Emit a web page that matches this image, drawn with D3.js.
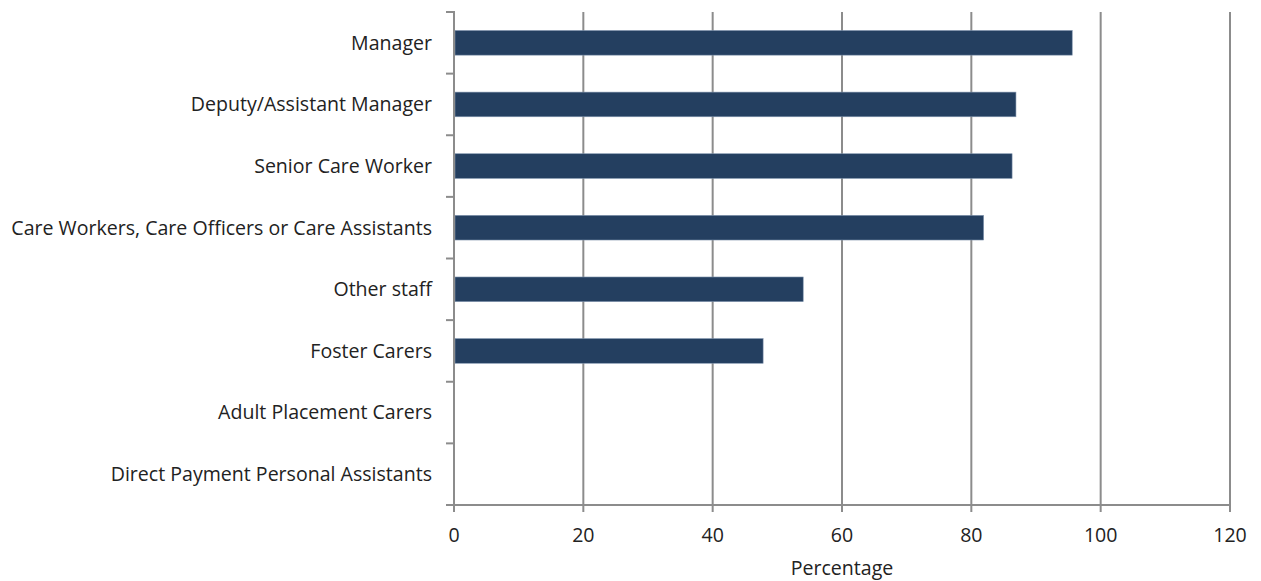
<!DOCTYPE html>
<html>
<head>
<meta charset="utf-8">
<script src="https://cdn.jsdelivr.net/npm/d3@7"></script>
<style>
  html, body { margin: 0; padding: 0; background: #fff; }
  svg { display: block; font-family: "Open Sans", "Noto Sans", sans-serif; }
</style>
</head>
<body>
<svg id="chart" width="1261" height="581"></svg>
<script>
const categories = [
  "Manager",
  "Deputy/Assistant Manager",
  "Senior Care Worker",
  "Care Workers, Care Officers or Care Assistants",
  "Other staff",
  "Foster Carers",
  "Adult Placement Carers",
  "Direct Payment Personal Assistants"
];
const values = [95.6, 86.9, 86.3, 81.9, 54.0, 47.8, null, null];
const xTicks = [0, 20, 40, 60, 80, 100, 120];
const xTitle = "Percentage";

const svg = d3.select("#chart");
const margin = { left: 454, right: 31, top: 12, bottom: 76 };
const W = 1261, H = 581;
const innerW = W - margin.left - margin.right;
const innerH = H - margin.top - margin.bottom;

const x = d3.scaleLinear().domain([0, 120]).range([0, innerW]);
const y = d3.scaleBand().domain(categories).range([0, innerH]).paddingInner(0.6).paddingOuter(0.3);

const g = svg.append("g").attr("transform", `translate(${margin.left},${margin.top})`);
const gridColor = "#8c8c8c";

// vertical gridlines
g.append("g").selectAll("line").data(xTicks.filter(d => d > 0)).join("line")
  .attr("x1", d => x(d)).attr("x2", d => x(d))
  .attr("y1", 0).attr("y2", innerH)
  .attr("stroke", gridColor).attr("stroke-width", 2);

// bars
const data = categories.map((c, i) => ({ c, v: values[i] })).filter(d => d.v != null);
g.append("g").selectAll("rect").data(data).join("rect")
  .attr("x", x(0) + 1)
  .attr("y", d => y(d.c))
  .attr("width", d => x(d.v) - x(0) - 1)
  .attr("height", y.bandwidth())
  .attr("fill", "#243f60")
  .attr("stroke", "#7f93ad").attr("stroke-width", 0.6);

// left axis with ticks at band boundaries
const step = innerH / categories.length;
const bounds = d3.range(categories.length + 1).map(i => i * step);
g.append("g").selectAll("line").data(bounds).join("line")
  .attr("x1", -8).attr("x2", 0)
  .attr("y1", d => d).attr("y2", d => d)
  .attr("stroke", gridColor).attr("stroke-width", 2);
g.append("line").attr("x1", 0).attr("x2", 0).attr("y1", -1).attr("y2", innerH + 7)
  .attr("stroke", gridColor).attr("stroke-width", 2);

// bottom axis
g.append("line").attr("x1", -8).attr("x2", innerW + 1).attr("y1", innerH).attr("y2", innerH)
  .attr("stroke", gridColor).attr("stroke-width", 2);
g.append("g").selectAll("line").data(xTicks).join("line")
  .attr("x1", d => x(d)).attr("x2", d => x(d))
  .attr("y1", innerH).attr("y2", innerH + 7)
  .attr("stroke", gridColor).attr("stroke-width", 2);

// category labels
const labels = g.append("g").selectAll("text").data(categories).join("text")
  .attr("x", -22)
  .attr("y", d => y(d) + y.bandwidth() / 2)
  .attr("dy", "0.35em")
  .attr("text-anchor", "end")
  .attr("fill", "#222")
  .style("font-size", "18px")
  .text(d => d);

// fit font so the longest label spans ~421px
let maxW = 0;
labels.each(function() { maxW = Math.max(maxW, this.getComputedTextLength()); });
const fs = 18 * 421 / maxW;
labels.style("font-size", fs + "px");

// x tick labels
g.append("g").selectAll("text").data(xTicks).join("text")
  .attr("x", d => x(d))
  .attr("y", innerH + 30)
  .attr("dy", "0.35em")
  .attr("text-anchor", "middle")
  .attr("fill", "#222")
  .style("font-size", fs + "px")
  .text(d => d);

g.append("text")
  .attr("x", x(60))
  .attr("y", innerH + 63)
  .attr("dy", "0.35em")
  .attr("text-anchor", "middle")
  .attr("fill", "#222")
  .style("font-size", fs + "px")
  .text(xTitle);
</script>
</body>
</html>
